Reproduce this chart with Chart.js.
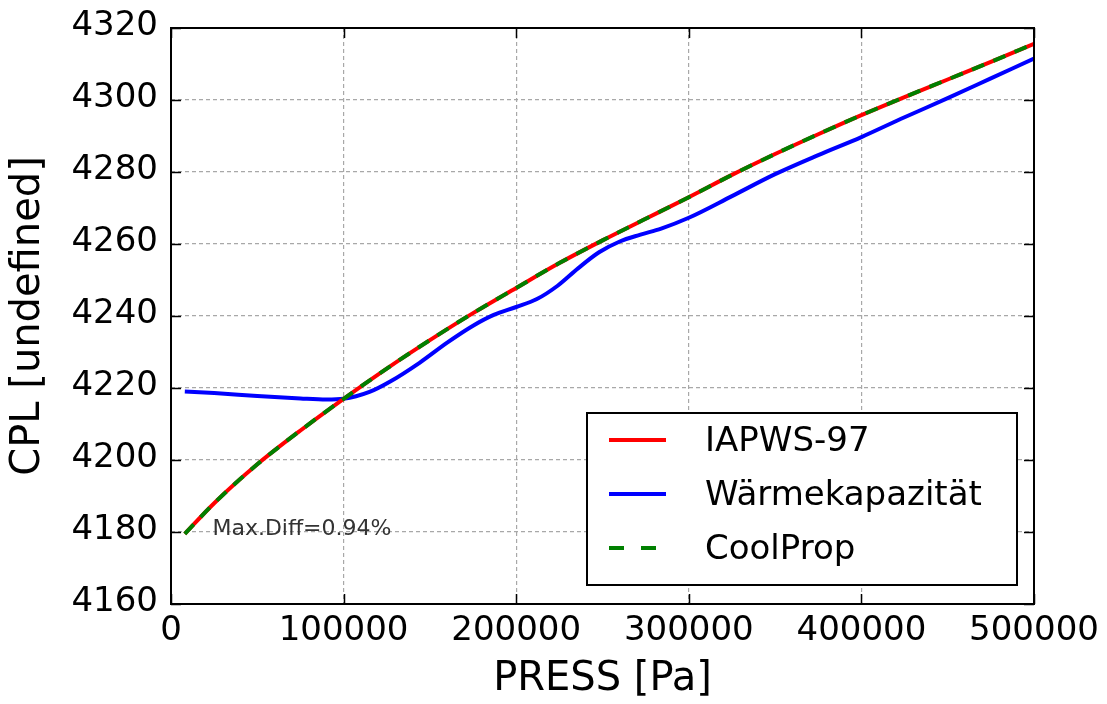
<!DOCTYPE html>
<html>
<head>
<meta charset="utf-8">
<script src="https://cdn.jsdelivr.net/npm/chart.js@4.4.0/dist/chart.umd.min.js"></script>
<style>
html, body { margin: 0; padding: 0; background: #ffffff; }
#wrap { width: 1107px; height: 704px; }
</style>
</head>
<body>
<div id="wrap"><canvas id="c" width="1107" height="704"></canvas></div>
<script>
// ---------------- data ----------------
const seriesNames = ['IAPWS-97', 'Wärmekapazität', 'CoolProp'];

const pressIAPWS = [8000, 25000, 50000, 75000, 100000, 125000, 150000, 175000, 200000, 225000,
                    250000, 275000, 300000, 325000, 350000, 375000, 400000, 425000, 450000, 475000, 500000];
const cplIAPWS   = [4179.5, 4188.0, 4198.8, 4208.2, 4217.0, 4225.4, 4233.3, 4240.8, 4247.8, 4254.7,
                    4261.0, 4267.0, 4273.0, 4279.2, 4285.0, 4290.5, 4295.8, 4300.8, 4305.7, 4310.6, 4315.6];

const pressWaerme = [8000, 25000, 50000, 75000, 90000, 100000, 115000, 127000, 144000, 160000,
                     175000, 187000, 200000, 212000, 224000, 236000, 248000, 260000, 272000, 284000,
                     300000, 325000, 350000, 375000, 400000, 425000, 450000, 475000, 500000];
const cplWaerme   = [4219.0, 4218.6, 4217.8, 4217.1, 4216.8, 4217.0, 4218.9, 4221.8, 4227.0, 4232.6,
                     4237.3, 4240.3, 4242.5, 4244.7, 4248.4, 4253.3, 4257.7, 4260.7, 4262.6, 4264.3,
                     4267.3, 4273.3, 4279.4, 4284.7, 4289.7, 4295.2, 4300.5, 4306.0, 4311.5];

const pressCoolProp = [8000, 25000, 50000, 75000, 100000, 125000, 150000, 175000, 200000, 225000,
                       250000, 275000, 300000, 325000, 350000, 375000, 400000, 425000, 450000, 475000, 500000];
const cplCoolProp   = [4179.5, 4188.0, 4198.8, 4208.2, 4217.0, 4225.4, 4233.3, 4240.8, 4247.8, 4254.7,
                       4261.0, 4267.0, 4273.0, 4279.2, 4285.0, 4290.5, 4295.8, 4300.8, 4305.7, 4310.6, 4315.6];

const xTicks = [0, 100000, 200000, 300000, 400000, 500000];
const yTicks = [4160, 4180, 4200, 4220, 4240, 4260, 4280, 4300, 4320];

const xTitle = 'PRESS [Pa]';
const yTitle = 'CPL [undefined]';
const annotationText = 'Max.Diff=0.94%';
const annotationX = 24000;
const annotationY = 4179.2;

// ---------------- styling ----------------
const FONT = 'DejaVu Sans';
const colors = ['#ff0000', '#0000ff', '#008000'];
const LW = 4;

function pts(xs, ys) { return xs.map((x, i) => ({ x: x, y: ys[i] })); }

const framePlugin = {
  id: 'frame',
  afterDatasetsDraw(chart) {
    const { ctx, chartArea: a, scales } = chart;
    ctx.save();
    ctx.strokeStyle = '#000';
    ctx.lineWidth = 1.5;
    const tl = 10;
    ctx.beginPath();
    xTicks.forEach(v => {
      const px = Math.round(scales.x.getPixelForValue(v)) + 0.5;
      ctx.moveTo(px, a.bottom); ctx.lineTo(px, a.bottom - tl);
      ctx.moveTo(px, a.top); ctx.lineTo(px, a.top + tl);
    });
    yTicks.forEach(v => {
      const py = Math.round(scales.y.getPixelForValue(v)) + 0.5;
      ctx.moveTo(a.left, py); ctx.lineTo(a.left + tl, py);
      ctx.moveTo(a.right, py); ctx.lineTo(a.right - tl, py);
    });
    ctx.stroke();
    ctx.lineWidth = 2;
    ctx.strokeRect(a.left, a.top, a.right - a.left, a.bottom - a.top);
    // annotation
    ctx.fillStyle = '#333333';
    ctx.font = '22px "' + FONT + '"';
    ctx.textAlign = 'left';
    ctx.textBaseline = 'alphabetic';
    ctx.fillText(annotationText, scales.x.getPixelForValue(annotationX), scales.y.getPixelForValue(annotationY));
    ctx.restore();
  }
};

const legendPlugin = {
  id: 'boxLegend',
  afterDraw(chart) {
    const { ctx } = chart;
    const bx = 587, by = 413, bw = 430, bh = 172;
    ctx.save();
    ctx.fillStyle = '#ffffff';
    ctx.fillRect(bx, by, bw, bh);
    ctx.strokeStyle = '#000';
    ctx.lineWidth = 2;
    ctx.strokeRect(bx, by, bw, bh);
    const rows = [440, 494, 548];
    chart.data.datasets.forEach((ds, i) => {
      const y = rows[i];
      ctx.beginPath();
      ctx.strokeStyle = ds.borderColor;
      ctx.lineWidth = LW;
      ctx.lineCap = 'butt';
      ctx.setLineDash(ds.borderDash && ds.borderDash.length ? [15, 17] : []);
      ctx.moveTo(609, y); ctx.lineTo(666, y);
      ctx.stroke();
      ctx.setLineDash([]);
      ctx.fillStyle = '#000';
      ctx.font = '34px "' + FONT + '"';
      ctx.textAlign = 'left';
      ctx.textBaseline = 'middle';
      ctx.fillText(ds.label, 705, y + 2.5);
    });
    ctx.restore();
  }
};

Chart.defaults.font.family = FONT;

new Chart(document.getElementById('c'), {
  type: 'line',
  data: {
    datasets: [
      { label: seriesNames[0], data: pts(pressIAPWS, cplIAPWS), borderColor: colors[0], order: 1 },
      { label: seriesNames[1], data: pts(pressWaerme, cplWaerme), borderColor: colors[1], order: 2 },
      { label: seriesNames[2], data: pts(pressCoolProp, cplCoolProp), borderColor: colors[2], borderDash: [13, 10], order: 0 }
    ].map(d => Object.assign({
      borderWidth: LW, pointRadius: 0, pointHoverRadius: 0, fill: false,
      cubicInterpolationMode: 'monotone', borderCapStyle: 'butt', borderJoinStyle: 'round'
    }, d))
  },
  options: {
    responsive: false,
    animation: false,
    events: [],
    layout: { padding: { left: 0, top: 28, right: 73, bottom: 0 } },
    plugins: { legend: { display: false }, tooltip: { enabled: false } },
    scales: {
      x: {
        type: 'linear', min: 0, max: 500000,
        afterBuildTicks: s => { s.ticks = xTicks.map(v => ({ value: v })); },
        afterFit: s => { s.height = 100; s.paddingLeft = 0; s.paddingRight = 0; },
        grid: { color: '#a8a8a8', lineWidth: 1.2, drawTicks: false },
        border: { display: false, dash: [4, 3] },
        ticks: { color: '#000', font: { size: 34 }, padding: 7, maxRotation: 0, autoSkip: false,
                 callback: v => String(v) },
        title: { display: true, text: xTitle, color: '#000', font: { size: 40 }, padding: { top: 0, bottom: 0 } }
      },
      y: {
        type: 'linear', min: 4160, max: 4320,
        afterBuildTicks: s => { s.ticks = yTicks.map(v => ({ value: v })); },
        afterFit: s => { s.width = 171; s.paddingTop = 0; s.paddingBottom = 0; },
        grid: { color: '#a8a8a8', lineWidth: 1.2, drawTicks: false },
        border: { display: false, dash: [4, 3] },
        ticks: { color: '#000', font: { size: 34 }, padding: 13, labelOffset: -1.5,
                 callback: v => String(v) },
        title: { display: true, text: yTitle, color: '#000', font: { size: 40 }, padding: { top: 5, bottom: 0 } }
      }
    }
  },
  plugins: [framePlugin, legendPlugin]
});
</script>
</body>
</html>
